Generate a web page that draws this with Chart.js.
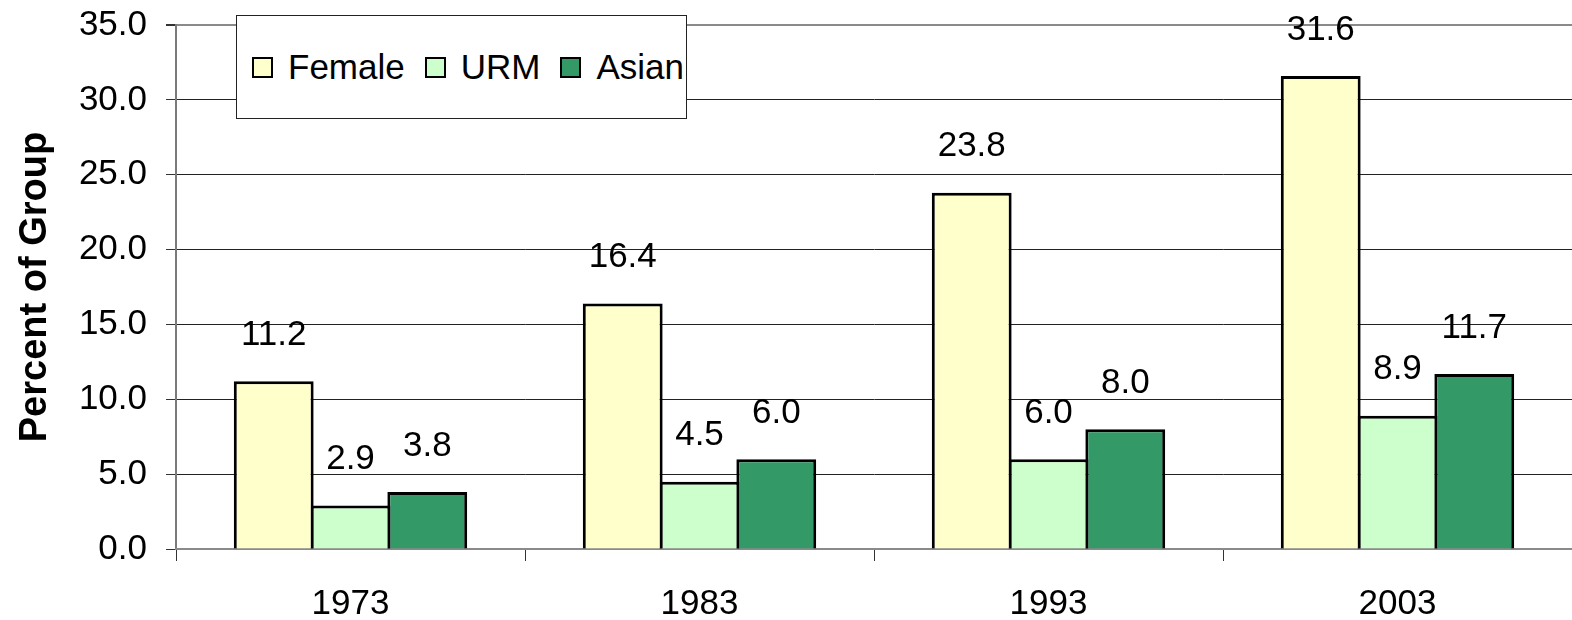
<!DOCTYPE html>
<html>
<head>
<meta charset="utf-8">
<script src="https://cdn.jsdelivr.net/npm/chart.js@4.4.0/dist/chart.umd.min.js"></script>
<style>
  body { margin: 0; background: #fff; }
  #wrap { position: relative; width: 1572px; height: 620px; }
  #legend {
    position: absolute; left: 236px; top: 15px; width: 451px; height: 104px;
    border: 1px solid #222; background: #fff; box-sizing: border-box;
    font-family: "Liberation Sans", Arial, sans-serif; font-size: 35px; color: #000;
    display: flex; align-items: center; padding-left: 15px;
  }
  .item { display: flex; align-items: center; margin-right: 20px; }
  .box { width: 17px; height: 17px; border: 2.5px solid #000; margin-right: 15px; }
</style>
</head>
<body>
<div id="wrap">
  <canvas id="bigChart" width="1572" height="620"></canvas>
  <div id="legend"></div>
</div>
<script>
let years = ['1973', '1983', '1993', '2003'];
let femaleData = [11.2, 16.4, 23.8, 31.6];
let urmData = [2.9, 4.5, 6.0, 8.9];
let asianData = [3.8, 6.0, 8.0, 11.7];
let yTicks = [0, 5, 10, 15, 20, 25, 30, 35];

let ctx1 = document.getElementById('bigChart').getContext('2d');
let font = "'Liberation Sans', Arial, sans-serif";

// value labels above bars
let barLabels = {
    id: 'barLabels',
    afterDatasetsDraw(chart) {
        let c = chart.ctx;
        c.save();
        c.font = '35px ' + font;
        c.fillStyle = '#000';
        c.textAlign = 'center';
        c.textBaseline = 'middle';
        chart.data.datasets.forEach(function(ds, i) {
            chart.getDatasetMeta(i).data.forEach(function(bar, j) {
                c.fillText(ds.data[j].toFixed(1), bar.x, bar.y - 46);
            });
        });
        c.restore();
    }
};

let myChart = new Chart(ctx1, {
    type: 'bar',
    data: {
        labels: years,
        datasets: [{
            label: 'Female',
            data: femaleData,
            backgroundColor: '#ffffcc',
            borderColor: '#000',
            borderWidth: 3
        },
        {
            label: 'URM',
            data: urmData,
            backgroundColor: '#ccffcc',
            borderColor: '#000',
            borderWidth: 3
        },
        {
            label: 'Asian',
            data: asianData,
            backgroundColor: '#339966',
            borderColor: '#000',
            borderWidth: 3
        }]
    },
    options: {
        responsive: false,
        animation: false,
        layout: { padding: { top: 0, right: 0, left: 0, bottom: 0 } },
        categoryPercentage: 0.66,
        barPercentage: 1.04,
        plugins: {
            legend: { display: false },
            tooltip: { enabled: false }
        },
        scales: {
            y: {
                min: 0,
                max: 35,
                afterBuildTicks: function(scale) {
                    scale.ticks = yTicks.map(function(v) { return { value: v }; });
                },
                afterFit: function(scale) { scale.width = 176; },
                ticks: {
                    color: '#000',
                    padding: 19,
                    font: { family: font, size: 35, lineHeight: 0.35 },
                    callback: function(v) { return v.toFixed(1); }
                },
                grid: {
                    color: function(c) { return c.tick && c.tick.value === 35 ? '#8a8a8a' : '#222'; },
                    lineWidth: function(c) { return c.tick && c.tick.value === 35 ? 2 : 1; },
                    tickLength: 10,
                    tickColor: '#333'
                },
                border: { color: '#7a7a7a', width: 2 },
                title: {
                    display: true,
                    text: 'Percent of Group',
                    color: '#000',
                    padding: { top: 13, bottom: 0 },
                    font: { family: font, size: 38, weight: 'bold' }
                }
            },
            x: {
                offset: true,
                afterFit: function(scale) { scale.height = 71; },
                ticks: {
                    color: '#000',
                    padding: 22,
                    font: { family: font, size: 35 }
                },
                grid: {
                    offset: true,
                    drawOnChartArea: false,
                    tickLength: 12,
                    tickColor: '#333'
                },
                border: { color: '#8a8a8a', width: 2 }
            }
        }
    },
    plugins: [barLabels]
});

// html legend built from the datasets
let legend = document.getElementById('legend');
myChart.data.datasets.forEach(function(ds) {
    let item = document.createElement('div');
    item.className = 'item';
    let box = document.createElement('span');
    box.className = 'box';
    box.style.background = ds.backgroundColor;
    let txt = document.createElement('span');
    txt.textContent = ds.label;
    item.appendChild(box);
    item.appendChild(txt);
    legend.appendChild(item);
});
</script>
</body>
</html>
